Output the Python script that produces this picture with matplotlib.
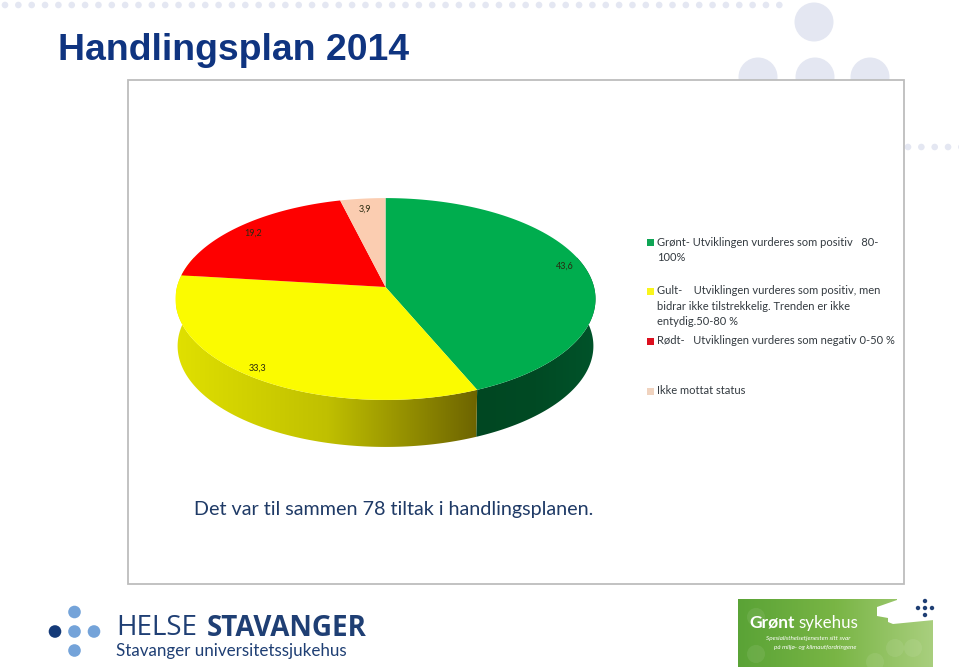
import numpy as np
import matplotlib
matplotlib.use("Agg")
import matplotlib.pyplot as plt
from matplotlib.colors import LinearSegmentedColormap
from matplotlib.patches import Circle, Polygon, Rectangle

# pie values, clockwise from 12 o'clock
status_names = ["Grønt", "Gult", "Rødt", "Ikke mottat"]
status_values = [43.6, 33.3, 19.2, 3.9]
status_labels = ["43,6", "33,3", "19,2", "3,9"]
status_colors = ["#00ad4e", "#fbfb00", "#fe0000", "#fbcdb1"]

legend_lines = [
    ["Grønt- Utviklingen vurderes som positiv   80-", "100%"],
    ["Gult-    Utviklingen vurderes som positiv, men",
     "bidrar ikke tilstrekkelig. Trenden er ikke", "entydig.50-80 %"],
    ["Rødt-   Utviklingen vurderes som negativ 0-50 %"],
    ["Ikke mottat status"],
]
legend_colors = ["#0fa555", "#f9f51c", "#dc0f1e", "#f0d3bf"]

NAVY = "#0f3480"
LOGO = "#1f3f74"

fig = plt.figure(figsize=(9.59, 6.68), dpi=100)
ax = fig.add_axes([0, 0, 1, 1])
ax.set_xlim(0, 959)
ax.set_ylim(668, 0)
ax.axis("off")

# background decoration
for x in np.arange(5, 790, 13.35):
    ax.add_patch(Circle((x, 5), 3.3, color="#e4e7f2", lw=0))
for x in np.arange(908, 965, 13.35):
    ax.add_patch(Circle((x, 147), 3.3, color="#e4e7f2", lw=0))
for x, y in [(814, 22), (758, 77), (815, 77), (870, 77)]:
    ax.add_patch(Circle((x, y), 19.5, color="#e4e7f2", lw=0))

ax.add_patch(Rectangle((128, 80), 776, 504, fc="white", ec="#bdbdbd", lw=1.3))
ax.text(58, 51, "Handlingsplan 2014", family="Liberation Sans", weight="bold",
        fontsize=26.9, color=NAVY, va="center")


# tilted pie: circle through a perspective projection
def rim(frac, drop=0.0, shrink=1.0):
    th = 2 * np.pi * np.asarray(frac)
    u, v = np.sin(th), -np.cos(th)
    w = 1 - 0.119 * v
    return np.column_stack((385.5 + shrink * 208.5 * u / w,
                            287 + 99.5 * v / w + drop))


cum = np.concatenate(([0], np.cumsum(status_values))) / sum(status_values)
DEPTH = 47

side_maps = [
    LinearSegmentedColormap.from_list("g", ["#00532a", "#004a24", "#004722"]),
    LinearSegmentedColormap.from_list("y", ["#e0e000", "#c0c000", "#6d6400"]),
]
side_ranges = [(0.2, cum[1]), (cum[1], 0.8)]
for cmap, (a, b) in zip(side_maps, side_ranges):
    f = np.linspace(a, b, 120)
    pts = np.vstack((rim(f), rim(f[::-1], DEPTH, 0.99)))
    poly = Polygon(pts, fc="none", ec="none", transform=ax.transData)
    ax.add_patch(poly)
    x0, x1 = pts[:, 0].min(), pts[:, 0].max()
    grad = np.linspace(0, 1, 256)[None, :]
    if cmap.name == "g":
        grad = grad[:, ::-1]
    im = ax.imshow(grad, cmap=cmap, aspect="auto", zorder=2,
                   extent=(x0, x1, pts[:, 1].max(), pts[:, 1].min()))
    im.set_clip_path(poly)
ax.set_xlim(0, 959)
ax.set_ylim(668, 0)

for i, col in enumerate(status_colors):
    f = np.linspace(cum[i], cum[i + 1], 100)
    pts = np.vstack(([[385.5, 287]], rim(f)))
    ax.add_patch(Polygon(pts, fc=col, ec="none", zorder=3))

# data labels sit near the rim of each slice
label_pos = [(565, 266), (258, 368), (253, 233), (365, 209)]
for text, (x, y) in zip(status_labels, label_pos):
    ax.text(x, y, text, family="Lato", fontsize=6.5, color="#2a2a10",
            ha="center", va="center", zorder=4)

# legend
legend_tops = [242, 291, 341, 391]
for lines, col, y in zip(legend_lines, legend_colors, legend_tops):
    ax.add_patch(Rectangle((646.5, y - 3.5), 7, 7, fc=col, ec="none"))
    for j, line in enumerate(lines):
        ax.text(657, y + j * 15.3, line, family="Lato", fontsize=8.05,
                color="#333a40", va="center")

ax.text(194, 510, "Det var til sammen 78 tiltak i handlingsplanen.", family="Lato",
        fontsize=14.25, color="#1f3a66", va="center")

# Helse Stavanger logo
for x, y, c in [(74.5, 612, "#74a3d9"), (74.5, 631.5, "#74a3d9"), (94, 631.5, "#74a3d9"),
                (74.5, 650.5, "#74a3d9"), (55, 631.5, "#143a78")]:
    ax.add_patch(Circle((x, y), 6.3, color=c, lw=0))
ax.text(116, 628, "HELSE", family="Open Sans", fontsize=20, color=LOGO, va="center")
ax.text(207, 628, "STAVANGER", family="Open Sans", weight="bold", fontsize=20,
        color=LOGO, va="center")
ax.text(116, 651, "Stavanger universitetssjukehus", family="Lato", fontsize=12.25,
        color=LOGO, va="center")

# Grønt sykehus badge
badge = ax.imshow(np.linspace(0, 1, 256)[None, :],
                  cmap=LinearSegmentedColormap.from_list("b", ["#5aa336", "#79b545", "#a9cf7e"]),
                  aspect="auto", extent=(738, 933, 667, 599), zorder=1)
ax.set_xlim(0, 959)
ax.set_ylim(668, 0)
ax.add_patch(Polygon([(877, 607), (897, 600), (897, 598), (934, 598), (934, 620), (893, 624),
                      (888, 622), (888, 618), (877, 616)], fc="white", ec="none", zorder=2))
for x, y in [(925, 601), (925, 608), (925, 615), (918, 608), (932, 608)]:
    ax.add_patch(Circle((x, y), 2.2, color="#1f3f74", lw=0, zorder=3))
for x, y in [(756, 617), (756, 654), (895, 648), (913, 648), (875, 662)]:
    ax.add_patch(Circle((x, y), 9, color="#ffffff", alpha=0.08, lw=0, zorder=2))
ax.text(749, 623, "Grønt", family="Lato", weight="bold", fontsize=12.5, color="white",
        va="center", zorder=4)
ax.text(798, 623, "sykehus", family="Lato", fontsize=12.2, color="white", va="center", zorder=4)
ax.text(766, 638, "Spesialisthelsetjenesten sitt svar", family="Lato", style="italic",
        fontsize=4.6, color="white", va="center", zorder=4)
ax.text(774, 647, "på miljø- og klimautfordringene", family="Lato", style="italic",
        fontsize=4.6, color="white", va="center", zorder=4)

fig.savefig("out.png", dpi=100)
